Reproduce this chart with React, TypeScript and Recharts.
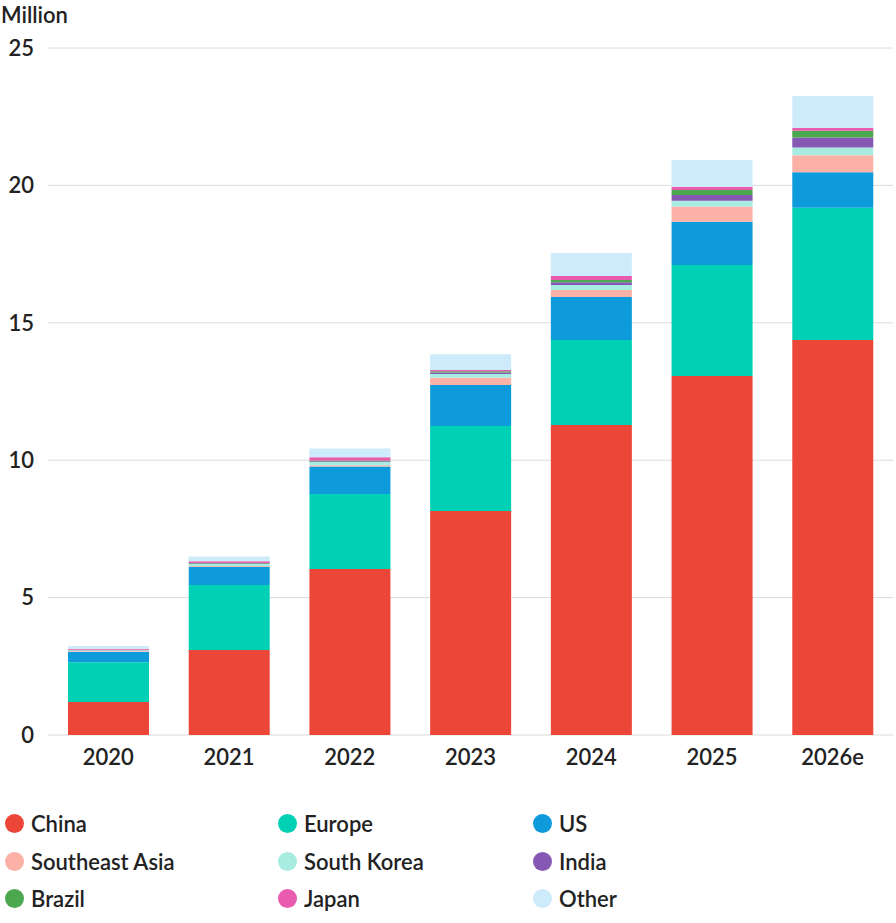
import React from 'react';
import { BarChart, Bar, XAxis, YAxis, CartesianGrid } from 'recharts';

const years = ['2020', '2021', '2022', '2023', '2024', '2025', '2026e'];
const china = [1.2, 3.09, 6.04, 8.15, 11.28, 13.06, 14.37];
const europe = [1.45, 2.37, 2.73, 3.09, 3.09, 4.04, 4.82];
const us = [0.37, 0.66, 1.0, 1.5, 1.57, 1.58, 1.29];
const sea = [0.03, 0.03, 0.05, 0.26, 0.25, 0.55, 0.62];
const korea = [0.03, 0.07, 0.11, 0.14, 0.19, 0.21, 0.28];
const india = [0.01, 0.02, 0.03, 0.05, 0.1, 0.21, 0.36];
const brazil = [0.01, 0.02, 0.03, 0.05, 0.08, 0.18, 0.25];
const japan = [0.04, 0.06, 0.12, 0.04, 0.14, 0.12, 0.1];
const other = [0.1, 0.18, 0.32, 0.58, 0.84, 0.97, 1.16];
const yTicks = [0, 5, 10, 15, 20, 25];

const series = [
  { key: 'China', values: china, color: '#EC4638' },
  { key: 'Europe', values: europe, color: '#00D0B4' },
  { key: 'US', values: us, color: '#0E9BDB' },
  { key: 'Southeast Asia', values: sea, color: '#FCB1A6' },
  { key: 'South Korea', values: korea, color: '#A8EBE0' },
  { key: 'India', values: india, color: '#8558B3' },
  { key: 'Brazil', values: brazil, color: '#4CA84E' },
  { key: 'Japan', values: japan, color: '#E85BAE' },
  { key: 'Other', values: other, color: '#CDEBFA' },
];

const data = years.map((y, i) => {
  const row: any = { year: y };
  series.forEach((s) => (row[s.key] = s.values[i]));
  return row;
});

const font = 'Lato, "Noto Sans", sans-serif';
const legendX = [5, 278, 533];

export default function App() {
  return (
    <div style={{ position: 'absolute', left: 0, top: 0, width: 896, height: 923, background: '#fff', fontFamily: font, color: '#222' }}>
      <div style={{ position: 'absolute', left: 1, top: 1, fontSize: 22, fontWeight: 600 }}>Million</div>
      <BarChart width={896} height={772} data={data} margin={{ top: 48, right: 3, bottom: 0, left: 0 }} barSize={81}>
        <CartesianGrid vertical={false} stroke="#dcdcdc" />
        <XAxis dataKey="year" axisLine={false} tickLine={false} tickSize={0} tickMargin={14} height={37}
          tick={{ fontSize: 22, fill: '#222', fontFamily: font, fontWeight: 600 }} />
        <YAxis domain={[0, 25]} ticks={yTicks} axisLine={false} tickLine={false} tickSize={0} tickMargin={14} width={48}
          tick={{ fontSize: 22, fill: '#222', fontFamily: font, fontWeight: 600 }} />
        {series.map((s) => (
          <Bar key={s.key} dataKey={s.key} stackId="a" fill={s.color} isAnimationActive={false} />
        ))}
      </BarChart>
      {series.map((s, i) => (
        <div key={s.key} style={{ position: 'absolute', left: legendX[i % 3], top: 810 + Math.floor(i / 3) * 37.5, display: 'flex', alignItems: 'center', fontSize: 22, fontWeight: 600 }}>
          <span style={{ width: 19, height: 19, borderRadius: '50%', background: s.color, display: 'inline-block', marginRight: 7 }} />
          {s.key}
        </div>
      ))}
    </div>
  );
}
